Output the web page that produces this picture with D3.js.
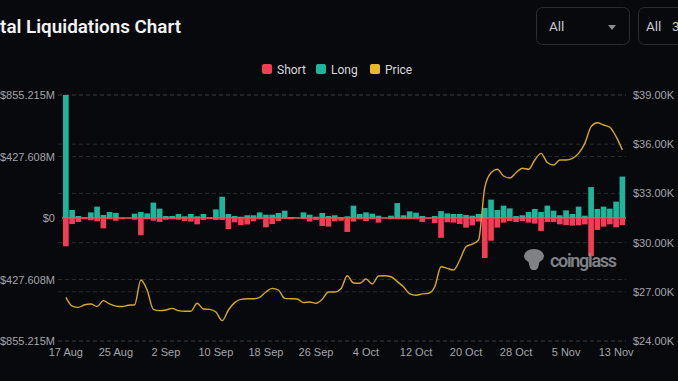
<!DOCTYPE html>
<html>
<head>
<meta charset="utf-8">
<script src="https://cdn.jsdelivr.net/npm/d3@7"></script>
<style>
  body { margin: 0; background: #08090d; overflow: hidden; }
  svg { display: block; font-family: Roboto, "Open Sans", sans-serif; }
</style>
</head>
<body>
<div id="chart"></div>
<script>
// daily liquidations, USD millions (short drawn below zero)
let longs = [855.215, 56, 14, 5, 39, 79, 21, 42, 35, 2,
  2, 30, 42, 32, 107, 65, 14, 14, 28, 12,
  28, 12, 28, 5, 60, 148, 28, 14, 9, 19,
  19, 39, 23, 23, 35, 51, 7, 3, 39, 23,
  9, 35, 14, 19, 7, 12, 86, 28, 39, 30,
  16, 2, 16, 104, 19, 46, 37, 14, 3, 14,
  48, 32, 28, 28, 21, 16, 28, 70, 128, 56,
  86, 67, 14, 19, 42, 63, 42, 86, 51, 19,
  53, 28, 79, 16, 215, 63, 79, 65, 114, 288];
let shorts = [197, 42, 28, 9, 16, 23, 72, 9, 19, 9,
  5, 12, 120, 9, 19, 28, 12, 9, 12, 21,
  25, 44, 14, 7, 14, 14, 77, 30, 49, 45,
  23, 9, 65, 42, 21, 7, 9, 3, 7, 25,
  14, 56, 60, 23, 19, 97, 25, 9, 21, 9,
  32, 3, 9, 9, 9, 9, 9, 28, 5, 35,
  138, 30, 32, 42, 67, 51, 25, 278, 158, 67,
  32, 21, 28, 21, 32, 39, 90, 28, 28, 44,
  49, 53, 51, 44, 265, 83, 60, 44, 65, 49];
// BTC price, thousands USD
let prices = [26.66, 26.13, 26.05, 26.21, 26.26, 26.10, 26.46, 26.26, 26.13, 26.10,
  26.18, 26.21, 27.72, 27.11, 25.93, 25.85, 25.89, 25.99, 25.85, 25.81,
  25.81, 26.30, 25.95, 25.93, 25.77, 25.24, 25.89, 26.34, 26.54, 26.58,
  26.58, 26.66, 26.99, 27.21, 27.11, 26.60, 26.58, 26.56, 26.34, 26.38,
  26.30, 26.54, 26.99, 26.99, 27.19, 27.98, 27.54, 27.52, 27.78, 27.48,
  27.96, 27.98, 27.92, 27.62, 27.31, 26.87, 26.79, 26.87, 26.91, 27.31,
  28.53, 28.43, 28.33, 28.94, 29.75, 29.91, 30.16, 33.37, 34.26, 34.47,
  34.06, 33.94, 34.26, 34.53, 34.47, 35.04, 35.44, 34.88, 34.73, 35.04,
  35.04, 35.14, 35.44, 36.05, 37.07, 37.31, 37.17, 37.03, 36.46, 35.65];

let days = d3.timeDay.range(new Date(2023, 7, 17), new Date(2023, 10, 15));
let xTickLabels = ["17 Aug", "25 Aug", "2 Sep", "10 Sep", "18 Sep", "26 Sep",
  "4 Oct", "12 Oct", "20 Oct", "28 Oct", "5 Nov", "13 Nov"];
let leftTicks = [-855.215, -427.608, 0, 427.608, 855.215];
let rightTicks = [24, 27, 30, 33, 36, 39];
let legendItems = ["Short", "Long", "Price"];

let w = 678, h = 381;
let colShort = "#f23d52", colLong = "#1fb59c", colPrice = "#d6a82a";
let legendColors = [colShort, colLong, "#e8b923"];

let svg = d3.select("#chart").append("svg").attr("width", w).attr("height", h);

// header - title is scrolled off to the left, "tal ..." begins at x=0
let probe = svg.append("text").attr("font-size", 17.5).attr("font-weight", 600)
  .text("tal Liquidations Chart");
let fs = 17.5 * 181 / probe.node().getComputedTextLength();
probe.remove();
svg.append("text")
  .attr("x", 181).attr("y", 33)
  .attr("text-anchor", "end")
  .attr("fill", "#f2f2f2")
  .attr("font-size", fs).attr("font-weight", 600)
  .text("Total Liquidations Chart");

svg.append("rect").attr("x", 536.5).attr("y", 7.5).attr("width", 93).attr("height", 37)
  .attr("rx", 6).attr("fill", "none").attr("stroke", "#2c2e34");
svg.append("text").attr("x", 549).attr("y", 31).attr("fill", "#c9cacd")
  .attr("font-size", 13.5).text("All");
svg.append("path").attr("d", "M608,25 L616,25 L612,30 Z").attr("fill", "#8a8c92");
svg.append("rect").attr("x", 638.5).attr("y", 7.5).attr("width", 80).attr("height", 37)
  .attr("rx", 6).attr("fill", "none").attr("stroke", "#2c2e34");
svg.append("text").attr("x", 646).attr("y", 31).attr("fill", "#c9cacd")
  .attr("font-size", 13.5).text("All");
svg.append("text").attr("x", 672).attr("y", 31).attr("fill", "#c9cacd")
  .attr("font-size", 13.5).text("30d");

// legend
let legend = svg.append("g").selectAll("g").data(legendItems).enter().append("g")
  .attr("transform", (d, i) => "translate(" + [262, 316, 370][i] + ",64)");
legend.append("rect").attr("width", 10).attr("height", 10).attr("rx", 2)
  .attr("fill", (d, i) => legendColors[i]);
legend.append("text").attr("x", 15).attr("y", 9.5)
  .attr("fill", "#d6d7da").attr("font-size", 12).text(d => d);

// scales
let x = d3.scaleBand().domain(d3.range(days.length)).range([62.4, 625.8]).padding(0.1);
let y = d3.scaleLinear().domain([-855.215, 855.215]).range([341, 95]);
let yP = d3.scaleLinear().domain([24, 39]).range([341, 95]);

// grid
let grid = svg.append("g").attr("stroke", "#2b2d33").attr("stroke-dasharray", "4,3");
grid.selectAll(".gl").data(leftTicks.filter(d => d !== 0)).enter().append("line")
  .attr("x1", 58).attr("x2", 626).attr("y1", d => y(d)).attr("y2", d => y(d));
grid.selectAll(".gr").data(rightTicks).enter().append("line")
  .attr("x1", 58).attr("x2", 626).attr("y1", d => yP(d)).attr("y2", d => yP(d));

// zero line
svg.append("line").attr("x1", 62).attr("x2", 626).attr("y1", y(0)).attr("y2", y(0))
  .attr("stroke", "#5b5d62").attr("stroke-width", 2);

// bars
svg.append("g").selectAll("rect").data(longs).enter().append("rect")
  .attr("x", (d, i) => x(i)).attr("width", x.bandwidth())
  .attr("y", d => y(d)).attr("height", d => y(0) - y(d))
  .attr("fill", colLong);
svg.append("g").selectAll("rect").data(shorts).enter().append("rect")
  .attr("x", (d, i) => x(i)).attr("width", x.bandwidth())
  .attr("y", y(0)).attr("height", d => y(-d) - y(0))
  .attr("fill", colShort);

// watermark
let wm = svg.append("g").attr("fill", "#8d8f93").attr("opacity", 0.9);
wm.append("ellipse").attr("cx", 534).attr("cy", 256).attr("rx", 10).attr("ry", 7);
wm.append("path").attr("d", "M528,260 L540,260 L538,268 L536,270 L532,270 L530,268 Z");
wm.append("text").attr("x", 550).attr("y", 267).attr("font-size", 18)
  .attr("font-weight", 600).attr("textLength", 67).text("coinglass");

// price line
let line = d3.line().x((d, i) => x(i) + x.bandwidth() / 2).y(d => yP(d)).curve(d3.curveMonotoneX);
svg.append("path").datum(prices).attr("d", line)
  .attr("fill", "none").attr("stroke", colPrice).attr("stroke-width", 1.4);

// axes
let fmtM = d => (d < 0 ? "-" : "") + "$" + (d === 0 ? "0" : Math.abs(d).toFixed(3) + "M");
let yAxis = d3.axisLeft(y).tickValues(leftTicks).tickFormat(fmtM).tickSize(0).tickPadding(0);
svg.append("g").attr("transform", "translate(55,0)").call(yAxis)
  .call(g => g.select(".domain").remove())
  .selectAll("text").attr("fill", "#a3a5aa").attr("font-size", 11).attr("font-family", null);

let yAxisR = d3.axisRight(yP).tickValues(rightTicks).tickFormat(d => "$" + d.toFixed(2) + "K")
  .tickSize(0).tickPadding(0);
svg.append("g").attr("transform", "translate(633,0)").call(yAxisR)
  .call(g => g.select(".domain").remove())
  .selectAll("text").attr("fill", "#a3a5aa").attr("font-size", 11).attr("font-family", null);

let tickIdx = d3.range(0, days.length, 8);
let xAxis = d3.axisBottom(x).tickValues(tickIdx).tickFormat((d, i) => xTickLabels[i])
  .tickSize(0).tickPadding(0);
svg.append("g").attr("transform", "translate(0,348)").call(xAxis)
  .call(g => g.select(".domain").remove())
  .selectAll("text").attr("fill", "#a3a5aa").attr("font-size", 11).attr("font-family", null);
</script>
</body>
</html>
